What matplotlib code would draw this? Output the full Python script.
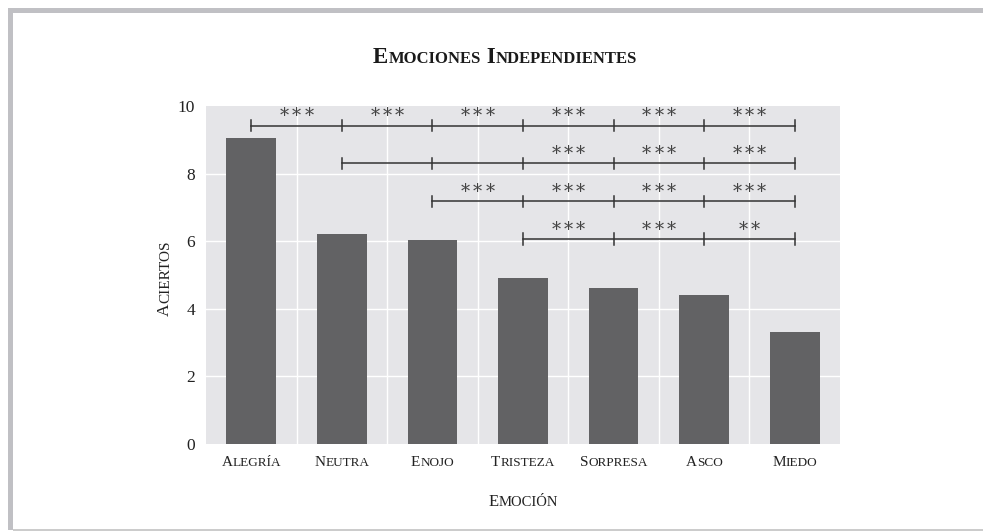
import matplotlib
matplotlib.use('Agg')
import matplotlib.pyplot as plt
from matplotlib.patches import Rectangle
from matplotlib.transforms import ScaledTranslation

# datos
emociones = ['Alegría', 'Neutra', 'Enojo', 'Tristeza', 'Sorpresa', 'Asco', 'Miedo']
aciertos = [9.05, 6.22, 6.05, 4.90, 4.62, 4.42, 3.32]

# comparaciones: fila de la llave, emocion inicial y etiqueta de cada tramo
fila_y = [9.42, 8.30, 7.18, 6.06]
fila_inicio = [0, 1, 2, 3]
fila_etiquetas = [
    ['***', '***', '***', '***', '***', '***'],
    ['', '', '***', '***', '***'],
    ['***', '***', '***', '***'],
    ['***', '***', '**'],
]
yticks = [0, 2, 4, 6, 8, 10]

FONT = 'Liberation Serif'
W, H = 983, 531
fig = plt.figure(figsize=(W / 100, H / 100), dpi=100)
fig.patch.set_facecolor('white')
renderer = fig.canvas.get_renderer()


def px(x, y):
    return x / W, 1 - y / H


def split_caps(s):
    runs = []
    for ch in s:
        big = not ch.islower()
        if runs and runs[-1][1] == big:
            runs[-1][0] += ch.upper()
        else:
            runs.append([ch.upper(), big])
    return runs


def small_caps(x, y, s, transform, big=11, small=9, rotation=0, weight='normal', color='#222222'):
    # versalitas a mano: letras grandes y pequenas en mayuscula, centrado
    runs = split_caps(s)
    widths = []
    for txt, is_big in runs:
        t = fig.text(0, 0, txt, fontsize=big if is_big else small, family=FONT, weight=weight)
        widths.append(t.get_window_extent(renderer).width * 72 / fig.dpi)
        t.remove()
    pos = -sum(widths) / 2
    for (txt, is_big), w in zip(runs, widths):
        if rotation == 90:
            off = ScaledTranslation(0, pos / 72, fig.dpi_scale_trans)
        else:
            off = ScaledTranslation(pos / 72, 0, fig.dpi_scale_trans)
        fig.text(x, y, txt, transform=transform + off, fontsize=big if is_big else small,
                 family=FONT, weight=weight, color=color, rotation=rotation,
                 rotation_mode='anchor', ha='left', va='baseline')
        pos += w


l, b = px(206, 444)
r, t = px(840, 106)
ax = fig.add_axes([l, b, r - l, t - b])
ax.set_facecolor('#e5e5e8')
for s in ax.spines.values():
    s.set_visible(False)

xs = list(range(len(emociones)))
ax.bar(xs, aciertos, width=0.55, color='#626264', zorder=3)
ax.set_xlim(-0.5, len(emociones) - 0.5)
ax.set_ylim(0, 10)

# rejilla blanca
for y in yticks[1:-1]:
    ax.axhline(y, color='white', lw=1.0, zorder=1)
for i in range(len(emociones) - 1):
    ax.axvline(i + 0.5, color='white', lw=1.0, zorder=1)

ax.set_xticks([])
ax.set_yticks(yticks)
ax.set_yticklabels([str(v) for v in yticks], family=FONT, fontsize=12.5, color='#222222')
ax.tick_params(axis='y', length=0, pad=8)

# llaves de significancia
star_pitch = 8.8  # puntos entre asteriscos
for yy, start, labels in zip(fila_y, fila_inicio, fila_etiquetas):
    end = start + len(labels)
    ax.plot([start, end], [yy, yy], color='#333333', lw=1.1, zorder=4)
    for k in range(start, end + 1):
        ax.plot([k, k], [yy - 0.17, yy + 0.17], color='#333333', lw=1.1, zorder=4)
    for j, lab in enumerate(labels):
        n = len(lab)
        for m in range(n):
            dx = (m - (n - 1) / 2) * star_pitch
            ax.annotate('*', xy=(start + j + 0.5, yy), xytext=(dx, 3.2),
                        textcoords='offset points', ha='center', va='baseline',
                        family='DejaVu Serif', fontsize=13, color='#444444', zorder=5)

# etiquetas de categorias
xt = ax.get_xaxis_transform()
for i, e in enumerate(emociones):
    small_caps(i, 0, e, xt + ScaledTranslation(0, -22 / 100, fig.dpi_scale_trans), big=11, small=9.5)

small_caps((206 + 840) / 2 / W, 0, 'Emoción',
           fig.transFigure + ScaledTranslation(0, (H - 506) / 100, fig.dpi_scale_trans),
           big=12, small=10.5)
small_caps(169 / W, 1 - 278 / H, 'Aciertos', fig.transFigure, big=12.5, small=11, rotation=90)
small_caps(505 / W, 1 - 63 / H, 'Emociones Independientes', fig.transFigure,
           big=16.5, small=12, weight='bold', color='#1a1a1a')

# marco gris de la pagina
def band(x0, y0, x1, y1, color):
    fx0, fy1 = px(x0, y0)
    fx1, fy0 = px(x1, y1)
    fig.add_artist(Rectangle((fx0, fy0), fx1 - fx0, fy1 - fy0, transform=fig.transFigure,
                             facecolor=color, edgecolor='none'))

band(8, 8, W, 13, '#c0c0c4')
band(8, 8, 13, 530, '#c0c0c4')
band(13, 529, W, 530.5, '#cccccc')

fig.savefig('out.png', dpi=100, facecolor='white')
